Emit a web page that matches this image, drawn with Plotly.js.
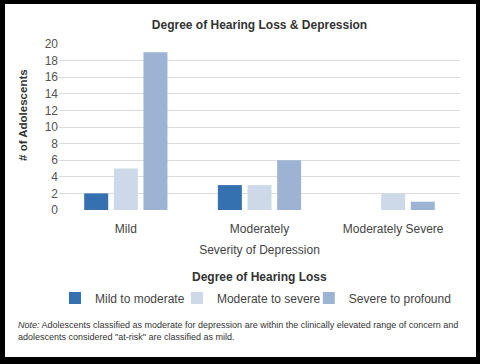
<!DOCTYPE html>
<html>
<head>
<meta charset="utf-8">
<script src="https://cdn.plot.ly/plotly-3.0.1.min.js"></script>
<style>
  html, body { margin: 0; padding: 0; background: #000; width: 480px; height: 364px; overflow: hidden; }
  #frame { position: absolute; left: 5px; top: 4px; width: 471px; height: 353px; background: #fff; border: 0; }
  #chart { width: 471px; height: 353px; }
</style>
</head>
<body>
<div id="frame"><div id="chart"></div></div>
<script>
const categories = ["Mild", "Moderately", "Moderately Severe"];
const seriesNames = ["Mild to moderate", "Moderate to severe", "Severe to profound"];
const mildToModerate = [2, 3, 0];
const moderateToSevere = [5, 3, 2];
const severeToProfound = [19, 6, 1];
const colors = ["#3570b1", "#cdd9e9", "#9db3d3"];
const yTicks = [0, 2, 4, 6, 8, 10, 12, 14, 16, 18, 20];

const values = [mildToModerate, moderateToSevere, severeToProfound];
const legendIds = ["legend", "legend2", "legend3"];
const legendX = [-0.010, 0.294, 0.623];
const font = "Liberation Sans, Arial, Helvetica, sans-serif";

const traces = values.map((v, i) => ({
  type: "bar",
  name: seriesNames[i],
  x: categories,
  y: v,
  marker: { color: colors[i] },
  legend: legendIds[i],
  hoverinfo: "x+y+name"
}));

function legendAt(x) {
  return {
    orientation: "h",
    x: x, xanchor: "left",
    y: -0.53, yanchor: "middle",
    font: { family: font, size: 12, color: "#444" },
    bgcolor: "rgba(0,0,0,0)",
    itemclick: false
  };
}

const layout = {
  width: 471,
  height: 353,
  margin: { l: 54, r: 16, t: 40, b: 147 },
  paper_bgcolor: "#ffffff",
  plot_bgcolor: "#ffffff",
  font: { family: font, color: "#444", size: 12 },
  barmode: "group",
  bargap: 0.335,
  bargroupgap: 0.19,
  title: {
    text: "<b>Degree of Hearing Loss & Depression</b>",
    font: { family: font, size: 12, color: "#333" },
    x: 0.5, xref: "paper", xanchor: "center",
    y: 0.94, yref: "container", yanchor: "middle"
  },
  xaxis: {
    type: "category",
    showgrid: false,
    zeroline: false,
    showline: false,
    ticks: "",
    ticklabelstandoff: 10,
    tickfont: { size: 12, color: "#444" },
    title: { text: "Severity of Depression", font: { size: 12, color: "#444" }, standoff: 10 }
  },
  yaxis: {
    range: [0, 20],
    tickvals: yTicks,
    ticktext: yTicks.map(String),
    showgrid: true,
    gridcolor: "#dcdcdc",
    gridwidth: 1,
    zeroline: false,
    showline: false,
    ticks: "",
    tickfont: { size: 12, color: "#555" }
  },
  showlegend: true,
  legend: legendAt(legendX[0]),
  legend2: legendAt(legendX[1]),
  legend3: legendAt(legendX[2]),
  annotations: [
    {
      text: "<b># of Adolescents</b>",
      xref: "paper", yref: "paper",
      x: -0.09, y: 0.572, xanchor: "center", yanchor: "middle",
      textangle: -90,
      showarrow: false,
      font: { family: font, size: 11.5, color: "#333" }
    },
    {
      text: "<b>Degree of Hearing Loss</b>",
      xref: "paper", yref: "paper",
      x: 0.5, y: -0.404, xanchor: "center", yanchor: "middle",
      showarrow: false,
      font: { family: font, size: 12, color: "#333" }
    },
    {
      text: "<i>Note:</i> Adolescents classified as moderate for depression are within the clinically elevated range of concern and<br>adolescents considered \"at-risk\" are classified as mild.",
      xref: "paper", yref: "paper",
      x: -0.107, y: -0.73, xanchor: "left", yanchor: "middle",
      align: "left",
      showarrow: false,
      font: { family: font, size: 9, color: "#333" }
    }
  ]
};

Plotly.newPlot("chart", traces, layout, { displayModeBar: false, staticPlot: true });
</script>
</body>
</html>
